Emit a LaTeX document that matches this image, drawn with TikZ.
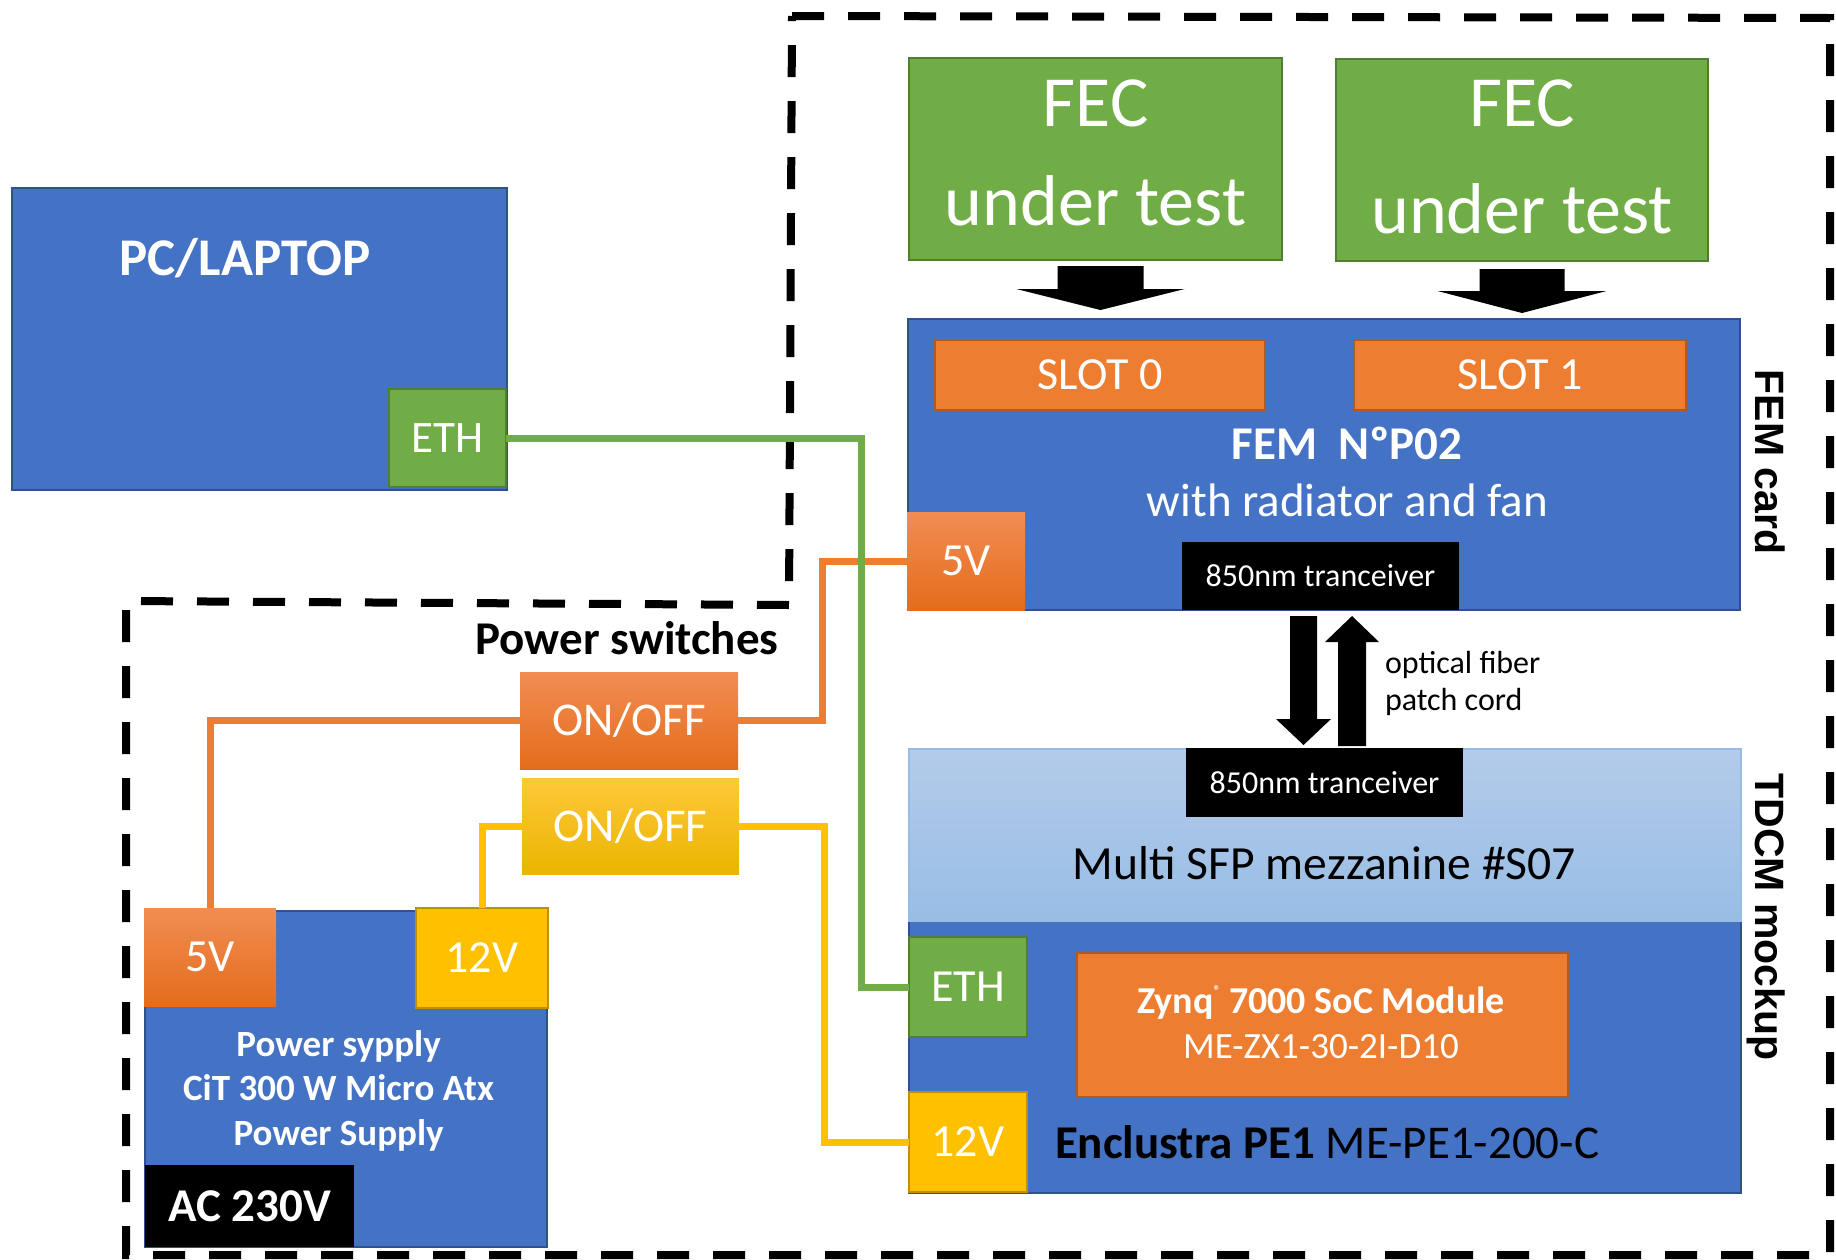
\documentclass[tikz,border=0pt]{standalone}
\usepackage{fontspec}
\setmainfont{Carlito}
\newfontfamily\arialfont{Liberation Sans}
\usetikzlibrary{calc}
\definecolor{oblue}{HTML}{4472C4}
\definecolor{oblueb}{HTML}{2F528F}
\definecolor{ogreen}{HTML}{70AD47}
\definecolor{ogreenb}{HTML}{507E32}
\definecolor{oorange}{HTML}{ED7D31}
\definecolor{oorangeb}{HTML}{AE5A21}
\definecolor{oyellow}{HTML}{FFC000}
\definecolor{oyellowb}{HTML}{BF9000}
\definecolor{orgtop}{HTML}{F18D53}
\definecolor{orgbot}{HTML}{E46C1C}
\definecolor{yeltop}{HTML}{FFC83A}
\definecolor{yelbot}{HTML}{E9B500}
\definecolor{lbtop}{HTML}{B4CBEA}
\definecolor{lbbot}{HTML}{98BDE5}
\newcommand\fs[2]{\fontsize{#1}{#2}\selectfont}
\begin{document}
\begin{tikzpicture}[x=0.5pt,y=-0.5pt,
 box/.style={inner sep=0pt, outer sep=0pt, line width=1.2pt, anchor=center},
 bluebox/.style={box, fill=oblue, draw=oblueb},
 greenbox/.style={box, fill=ogreen, draw=ogreenb},
 orangebox/.style={box, fill=oorange, draw=oorangeb},
 yellowbox/.style={box, fill=oyellow, draw=oyellowb},
 gradorange/.style={box, top color=orgtop, bottom color=orgbot, draw=none},
 gradyellow/.style={box, top color=yeltop, bottom color=yelbot, draw=none},
 blackbox/.style={box, fill=black},
 wtext/.style={text=white, inner sep=0pt, outer sep=0pt},
 ktext/.style={text=black, inner sep=0pt, outer sep=0pt},
 wire/.style={line width=3.5pt},
 region/.style={line width=4pt, dash pattern=on 16pt off 12pt},
 big/.style={font=\fs{23.5pt}{26pt}},
]
\useasboundingbox (0,0) rectangle (1836,1259);

% dashed region
\draw[region] (792,16) -- (1830,18) -- (1830,1255) -- (126,1255) -- (126,601) -- (789,605) -- cycle;

% PC
\node[bluebox, minimum width=247.5pt, minimum height=151pt] (pc) at (259.5,339) {};
\node[wtext, font=\bfseries\fs{26.5pt}{30pt}, anchor=base] (pctxt) at (245,275) {PC/LAPTOP};
\node[greenbox, minimum width=58.5pt, minimum height=49pt, text=white, font=\fs{22.5pt}{26pt}] (pceth) at (447.5,438) {ETH};

% FEC boxes
\node[greenbox, minimum width=186.5pt, minimum height=101pt] (fec0) at (1095.5,159) {};
\node[wtext, font=\fs{36pt}{40pt}, anchor=base] (fec0a) at (1095.5,126.5) {FEC};
\node[wtext, font=\fs{36pt}{40pt}, anchor=base] (fec0b) at (1095.5,225) {under test};
\node[greenbox, minimum width=186pt, minimum height=101pt] (fec1) at (1522,160) {};
\node[wtext, font=\fs{36pt}{40pt}, anchor=base] (fec1a) at (1522,126.5) {FEC};
\node[wtext, font=\fs{36pt}{40pt}, anchor=base] (fec1b) at (1522,233) {under test};

% FEM
\node[bluebox, minimum width=416pt, minimum height=145.5pt] (fem) at (1324,464.5) {};
\node[orangebox, minimum width=165pt, minimum height=35pt, text=white, font=\fs{23pt}{26pt}] (slot0) at (1100,375) {SLOT 0};
\node[orangebox, minimum width=166pt, minimum height=35pt, text=white, font=\fs{23pt}{26pt}] (slot1) at (1520,375) {SLOT 1};
\node[wtext, font=\bfseries\fs{23.5pt}{26pt}, anchor=base] (femname) at (1347,459.5) {FEM\ \ NºP02};
\node[wtext, big, anchor=base] (femsub) at (1347.5,516) {with radiator and fan};
\node[gradorange, minimum width=59pt, minimum height=49pt, text=white, font=\fs{23pt}{26pt}] (fem5v) at (966,561) {5V};
\node[blackbox, minimum width=138.5pt, minimum height=34pt, text=white, font=\fs{16pt}{18pt}] (femtr) at (1320.5,576) {850nm tranceiver};

% TDCM
\node[bluebox, minimum width=416pt, minimum height=136pt] (tdcm) at (1325,1057) {};
\node[box, top color=lbtop, bottom color=lbbot, draw=lbbot, line width=0.8pt, minimum width=416pt, minimum height=86pt] (mezz) at (1325,835) {};
\node[blackbox, minimum width=138.5pt, minimum height=34.5pt, text=white, font=\fs{16pt}{18pt}] (tdcmtr) at (1324.5,782.5) {850nm tranceiver};
\node[ktext, font=\fs{23.8pt}{26pt}, anchor=base] (mezztxt) at (1324.5,879) {Multi SFP mezzanine \#S07};
\node[greenbox, minimum width=59pt, minimum height=50pt, text=white, font=\fs{23pt}{26pt}] (teth) at (968,987) {ETH};
\node[yellowbox, minimum width=59pt, minimum height=50pt, text=white, font=\fs{23pt}{26pt}] (t12v) at (968,1142) {12V};
\node[orangebox, minimum width=245.5pt, minimum height=72pt] (zynq) at (1322.5,1025) {};
\node[wtext, font=\bfseries\fs{19pt}{22pt}, anchor=base] (zynqa) at (1321,1013) {Zynq\raisebox{9pt}{\fs{7pt}{7pt}®} 7000 SoC Module};
\node[wtext, font=\fs{18.5pt}{22pt}, anchor=base] (zynqb) at (1321,1058.6) {ME-ZX1-30-2I-D10};
\node[ktext, big, anchor=base west] (encl) at (1055,1158) {\textbf{Enclustra PE1} ME-PE1-200-C};

% rotated labels
\node[ktext, font=\arialfont\bfseries\fs{20.5pt}{24pt}, rotate=-90, anchor=base] (femcard) at (1755,462) {FEM card};
\node[ktext, font=\arialfont\bfseries\fs{20.5pt}{24pt}, rotate=-90, anchor=base] (tdcmlbl) at (1755,917) {TDCM mockup};

% optical fiber label
\node[ktext, font=\fs{16pt}{18.5pt}, anchor=base west] (opt1) at (1385,673) {optical fiber};
\node[ktext, font=\fs{16pt}{18.5pt}, anchor=base west] (opt2) at (1385,710) {patch cord};

% power section
\node[ktext, font=\bfseries\fs{23.5pt}{26pt}, anchor=base] (pswtxt) at (627,654.5) {Power switches};
\node[gradorange, minimum width=109pt, minimum height=48.5pt, text=white, big] (sw5) at (629,720.5) {ON/OFF};
\node[gradyellow, minimum width=108.5pt, minimum height=48pt, text=white, big] (sw12) at (630.5,826) {ON/OFF};
\node[bluebox, minimum width=201pt, minimum height=168pt] (psu) at (346,1079) {};
\node[gradorange, minimum width=66pt, minimum height=49pt, text=white, font=\fs{23pt}{26pt}] (psu5v) at (210,957) {5V};
\node[yellowbox, minimum width=66pt, minimum height=50pt, text=white, font=\fs{23pt}{26pt}] (psu12v) at (482,958) {12V};
\node[wtext, font=\bfseries\fs{18.5pt}{22pt}, anchor=base] (psua) at (338.6,1056) {Power sypply};
\node[wtext, font=\bfseries\fs{18.5pt}{22pt}, anchor=base] (psub) at (338.6,1100) {CiT 300 W Micro Atx};
\node[wtext, font=\bfseries\fs{18.5pt}{22pt}, anchor=base] (psuc) at (338.6,1145) {Power Supply};
\node[blackbox, minimum width=104.5pt, minimum height=41pt, text=white, font=\bfseries\fs{23.5pt}{26pt}] (ac) at (249.5,1206) {AC 230V};

% wires
\draw[wire, oorange] (psu5v.north) |- (sw5.west);
\draw[wire, oorange] (sw5.east) -| ([xshift=-42.5pt]fem5v.west) -- (fem5v.west);
\draw[wire, oyellow] (psu12v.north) |- (sw12.west);
\draw[wire, oyellow] (sw12.east) -| ([xshift=-42.25pt]t12v.west) -- (t12v.west);
\draw[wire, ogreen] (pceth.east) -| ([xshift=-24pt]teth.west) -- (teth.west);

% block arrows FEC -> FEM
\fill let \p1=(fec0.south), \p2=(fem.north) in
 (\x1-19pt,\y1-3pt) -- (\x1+24pt,\y1-3pt) -- (\x1+24pt,\y1-14.5pt) -- (\x1+44.5pt,\y1-14.5pt)
 -- (\x1+2.5pt,\y2+4.5pt) -- (\x1-39.5pt,\y1-14.5pt) -- (\x1-19pt,\y1-14.5pt) -- cycle;
\fill let \p1=(fec1.south), \p2=(fem.north) in
 (\x1-21.25pt,\y1-4pt) -- (\x1+21.25pt,\y1-4pt) -- (\x1+21.25pt,\y1-15pt) -- (\x1+42.25pt,\y1-15pt)
 -- (\x1,\y2+3pt) -- (\x1-42.25pt,\y1-15pt) -- (\x1-21.25pt,\y1-15pt) -- cycle;

% optical arrows
\fill let \p1=(femtr.south), \p2=(tdcmtr.north) in
 (\x1-15.25pt,\y1-3pt) -- (\x1-1.75pt,\y1-3pt) -- (\x1-1.75pt,\y2+14.5pt) -- (\x1+5.25pt,\y2+14.5pt)
 -- (\x1-8.5pt,\y2+1.5pt) -- (\x1-22.25pt,\y2+14.5pt) -- (\x1-15.25pt,\y2+14.5pt) -- cycle;
\fill let \p1=(femtr.south), \p2=(tdcmtr.north) in
 (\x1+8.75pt,\y2+1pt) -- (\x1+22.75pt,\y2+1pt) -- (\x1+22.75pt,\y1-16pt) -- (\x1+29.25pt,\y1-16pt)
 -- (\x1+15.75pt,\y1-3pt) -- (\x1+2.25pt,\y1-16pt) -- (\x1+8.75pt,\y1-16pt) -- cycle;
\end{tikzpicture}
\end{document}
